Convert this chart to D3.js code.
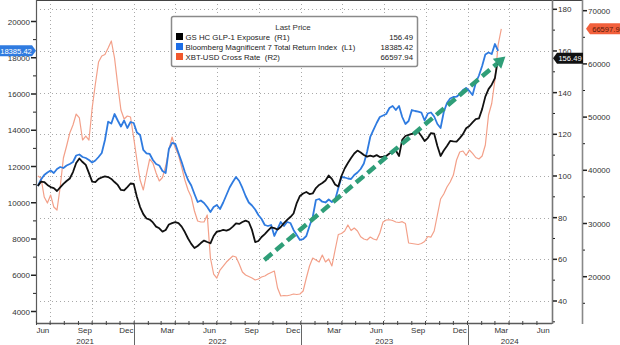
<!DOCTYPE html>
<html>
<head>
<meta charset="utf-8">
<script src="https://cdn.jsdelivr.net/npm/d3@7"></script>
<style>
  html, body { margin: 0; padding: 0; background: #fff; }
  svg { display: block; font-family: "Liberation Sans", Arial, sans-serif; }
  .keep-space { white-space: pre; }
</style>
</head>
<body>
<svg id="chart" width="620" height="345"></svg>
<script>
// ---- data -------------------------------------------------------------
// weekly closes, first observation on this date
const weekStart = "2021-06-04";

// GS HC GLP-1 Exposure (right axis R1)
const glpValues = [
  95.2, 97.3, 97.1, 95.7, 94.7, 94.2, 92.8, 94.5, 96.2, 97.6,
  98.8, 101.9, 106.2, 108.4, 106.7, 105.3, 101.4, 97.3, 97.1, 98.6,
  99.3, 99.8, 99.5, 98.6, 97.1, 95.7, 93.3, 93.1, 94.7, 96.4,
  96.2, 89.9, 85.1, 81.7, 79.6, 79.1, 77.7, 75.7, 74.9, 73.3,
  74.1, 76.7, 77.4, 77.9, 77.4, 75.7, 73.1, 70.0, 67.4, 65.4,
  66.4, 67.8, 69.0, 68.3, 67.7, 71.2, 73.3, 73.6, 74.1, 73.8,
  74.4, 75.7, 77.3, 77.0, 77.9, 78.6, 77.9, 74.1, 68.3, 68.8,
  70.7, 72.1, 73.8, 75.3, 75.0, 74.3, 75.5, 77.4, 78.9, 80.3,
  82.0, 87.0, 90.4, 91.6, 92.3, 91.3, 91.6, 94.2, 95.7, 96.6,
  97.8, 100.2, 98.6, 95.9, 94.9, 100.0, 103.6, 106.2, 108.6, 110.8,
  112.2, 111.3, 110.1, 109.3, 109.8, 109.3, 110.0, 109.1, 109.3, 109.6,
  110.8, 111.5, 112.2, 109.6, 117.3, 119.2, 119.7, 120.2, 120.6, 121.2,
  119.2, 116.8, 118.2, 120.6, 120.3, 114.4, 109.6, 112.2, 114.4, 116.8,
  116.6, 116.5, 118.2, 120.1, 122.9, 124.0, 125.7, 127.3, 127.6, 132.1,
  138.1, 141.7, 143.8, 147.0, 156.49
];

// Bloomberg Magnificent 7 Total Return Index (left axis L1)
const mag7Values = [
  10924, 11283, 11531, 11669, 11780, 11642, 11862, 11973, 11917, 12055,
  12138, 12248, 12607, 12662, 12525, 12469, 12359, 12221, 12331, 12525,
  12745, 13462, 14472, 14372, 14897, 14538, 14207, 14538, 14124, 14455,
  14400, 13876, 13738, 12911, 12729, 12690, 12359, 12138, 12055, 11752,
  11642, 12966, 13297, 13250, 12745, 12248, 11697, 11255, 10952, 10483,
  10042, 10125, 9987, 9766, 9490, 9766, 9876, 9655, 10014, 10428,
  10842, 11145, 11421, 11200, 10814, 10373, 10014, 9848, 9628, 9324,
  9104, 8773, 8718, 8773, 8166, 8552, 8938, 8718, 8938, 8883,
  8497, 8221, 7945, 7990, 8166, 8718, 9214, 10152, 10207, 10058,
  10014, 10180, 10042, 10152, 10798, 11421, 11393, 11338, 11311, 11531,
  11669, 11862, 12166, 12800, 13628, 14014, 14400, 14731, 14814, 14897,
  15228, 15338, 15117, 15338, 14731, 14345, 14510, 15117, 15062, 15024,
  14979, 14538, 14924, 14979, 14759, 14345, 14124, 15007, 15504, 15752,
  15835, 15851, 16000, 16221, 16331, 16166, 15945, 16607, 17021, 17545,
  18179, 18290, 18207, 18759, 18385.42
];

// XBT-USD Cross Rate (right axis R2)
const btcValues = [
  38928, 38552, 34981, 33853, 35357, 33101, 32537, 36860, 42309, 44566,
  47010, 48515, 50582, 49831, 45695, 46447, 45695, 51710, 56222, 60357,
  61485, 61767, 62989, 64305, 61109, 56034, 51334, 49642, 50206, 50018,
  46071, 41936, 38176, 36297, 39304, 42124, 41372, 39492, 37988, 38646,
  40808, 43815, 46259, 44191, 42875, 40620, 38176, 36297, 34981, 32350,
  30470, 30282, 30282, 31600, 23514, 20507, 19755, 21259, 22011, 22763,
  23326, 23890, 23702, 22387, 20883, 20319, 20037, 19755, 19379, 19567,
  19943, 20131, 20507, 20789, 21071, 17875, 16371, 16465, 16420, 16559,
  16747, 16653, 16747, 17311, 19755, 22011, 23514, 23138, 22763, 24078,
  22763, 23326, 22011, 25019, 27932, 28120, 28590, 29718, 28684, 29154,
  28590, 27519, 27086, 26898, 27462, 27086, 26898, 28214, 30282, 30658,
  30700, 30564, 30282, 30188, 30338, 30000, 26334, 26240, 26146, 26052,
  26240, 26616, 27556, 27450, 28590, 31598, 34606, 35546, 36860, 37800,
  39116, 41936, 43440, 43627, 42781, 43815, 43195, 42405, 42124, 42688,
  44755, 50394, 52556, 56973, 63552, 66597.94
];

const leftTicks = [4000, 6000, 8000, 10000, 12000, 14000, 16000, 18000, 20000];
const r1Ticks = [40, 60, 80, 100, 120, 140, 160, 180];
const r2Ticks = [20000, 30000, 40000, 50000, 60000, 70000];
const monthTicks = ["2021-06", "2021-09", "2021-12", "2022-03", "2022-06", "2022-09",
                    "2022-12", "2023-03", "2023-06", "2023-09", "2023-12", "2024-03", "2024-06"];
const yearLabels = ["2021", "2022", "2023", "2024"];

const seriesNames = ["GS HC GLP-1 Exposure  (R1)",
                     "Bloomberg Magnificent 7 Total Return Index  (L1)",
                     "XBT-USD Cross Rate  (R2)"];
const lastPrices = ["156.49", "18385.42", "66597.94"];

// trend arrow, expressed in date / R1 units
const trendFrom = { date: "2022-10-13", value: 59.7 };
const trendTo   = { date: "2024-03-24", value: 157.3 };

// ---- layout -----------------------------------------------------------
const svg = d3.select("#chart");
const parse = d3.utcParse("%Y-%m-%d");
const plotL = 36, plotR = 552, plotT = 0, plotB = 323, axR2 = 582;

const x = d3.scaleUtc()
  .domain([parse("2021-05-31"), parse("2024-07-04")])
  .range([plotL, plotR]);
const yL = d3.scaleLinear().domain([4000, 20000]).range([311.5, 21.5]);
const yR1 = d3.scaleLinear().domain([40, 180]).range([301, 9.3]);
const yR2 = d3.scaleLinear().domain([20000, 70000]).range([276.7, 10.7]);

const t0 = parse(weekStart);
const weekDate = i => d3.utcDay.offset(t0, 7 * i);

const colors = { glp: "#111111", mag7: "#2f7be0", btc: "#f3a089" };
const swatch = { glp: "#000000", mag7: "#1e6ee6", btc: "#f1582c" };

// ---- grid -------------------------------------------------------------
const grid = svg.append("g").attr("stroke", "#a9a9a9").attr("stroke-width", 1)
  .attr("stroke-dasharray", "1,3");
r1Ticks.forEach(v => {
  grid.append("line").attr("x1", plotL).attr("x2", plotR)
    .attr("y1", Math.round(yR1(v)) + 0.5).attr("y2", Math.round(yR1(v)) + 0.5);
});
const quarterLines = d3.utcMonth.every(3).range(parse("2021-07-01"), parse("2024-06-30"));
quarterLines.forEach(d => {
  grid.append("line").attr("x1", Math.round(x(d)) + 0.5).attr("x2", Math.round(x(d)) + 0.5)
    .attr("y1", plotT).attr("y2", plotB);
});

// ---- frame and axes ---------------------------------------------------
const axisColor = "#5a5a5a";
svg.append("line").attr("x1", plotL).attr("x2", axR2).attr("y1", 0.5).attr("y2", 0.5)
  .attr("stroke", "#444").attr("stroke-width", 1);
svg.append("line").attr("x1", plotL + 0.5).attr("x2", plotL + 0.5).attr("y1", 0).attr("y2", plotB)
  .attr("stroke", axisColor).attr("stroke-width", 1.2);
svg.append("line").attr("x1", plotL).attr("x2", plotR).attr("y1", plotB + 0.5).attr("y2", plotB + 0.5)
  .attr("stroke", axisColor).attr("stroke-width", 1.5);
svg.append("line").attr("x1", plotR + 0.5).attr("x2", plotR + 0.5).attr("y1", 0).attr("y2", plotB + 1)
  .attr("stroke", "#777").attr("stroke-width", 1.6);
svg.append("line").attr("x1", axR2 + 0.5).attr("x2", axR2 + 0.5).attr("y1", 0).attr("y2", plotB + 1)
  .attr("stroke", "#888").attr("stroke-width", 1.6);

const tickFont = 8;
const textColor = "#333";

// left axis (L1)
const gL = svg.append("g");
d3.range(4000, 20001, 1000).forEach(v => {
  const major = v % 2000 === 0;
  gL.append("line").attr("x1", plotL - (major ? 5 : 3)).attr("x2", plotL)
    .attr("y1", yL(v)).attr("y2", yL(v)).attr("stroke", "#222").attr("stroke-width", major ? 1.5 : 1);
});
leftTicks.forEach(v => {
  gL.append("text").attr("x", plotL - 6).attr("y", yL(v) + 3)
    .attr("text-anchor", "end").attr("font-size", tickFont).attr("fill", textColor).text(v);
});

// right axis (R1)
const gR1 = svg.append("g");
d3.range(30, 181, 10).forEach(v => {
  const major = v % 20 === 0;
  gR1.append("line").attr("x1", plotR + 1).attr("x2", plotR + (major ? 5 : 3))
    .attr("y1", yR1(v)).attr("y2", yR1(v)).attr("stroke", "#222").attr("stroke-width", major ? 1.5 : 1);
});
r1Ticks.forEach(v => {
  gR1.append("text").attr("x", plotR + 6).attr("y", yR1(v) + 3)
    .attr("font-size", tickFont).attr("fill", textColor).text(v);
});

// right axis (R2)
const gR2 = svg.append("g");
d3.range(15000, 70001, 5000).forEach(v => {
  const major = v % 10000 === 0;
  gR2.append("line").attr("x1", axR2 + 1).attr("x2", axR2 + (major ? 5 : 3))
    .attr("y1", yR2(v)).attr("y2", yR2(v)).attr("stroke", "#222").attr("stroke-width", major ? 1.5 : 1);
});
r2Ticks.forEach(v => {
  gR2.append("text").attr("x", axR2 + 6).attr("y", yR2(v) + 3)
    .attr("font-size", tickFont).attr("fill", textColor).text(v);
});

// time axis
const gX = svg.append("g");
d3.utcMonth.range(parse("2021-06-01"), parse("2024-07-01")).forEach(d => {
  gX.append("line").attr("x1", x(d)).attr("x2", x(d)).attr("y1", plotB - 2).attr("y2", plotB + 2)
    .attr("stroke", "#444").attr("stroke-width", 1);
});
const fmtMonth = d3.utcFormat("%b");
monthTicks.forEach(m => {
  const d = parse(m + "-15");
  gX.append("text").attr("x", x(d)).attr("y", plotB + 10).attr("text-anchor", "middle")
    .attr("font-size", tickFont).attr("fill", textColor).text(fmtMonth(d));
});
const [dom0, dom1] = x.domain();
yearLabels.forEach(yr => {
  const a = parse(yr + "-01-01"), b = parse((+yr + 1) + "-01-01");
  const xa = x(a < dom0 ? dom0 : a), xb = x(b > dom1 ? dom1 : b);
  gX.append("text").attr("x", (xa + xb) / 2).attr("y", plotB + 21).attr("text-anchor", "middle")
    .attr("font-size", tickFont).attr("fill", textColor).text(yr);
  if (a > dom0) {
    gX.append("line").attr("x1", Math.round(x(a)) + 0.5).attr("x2", Math.round(x(a)) + 0.5)
      .attr("y1", plotB + 2).attr("y2", 345).attr("stroke", "#666").attr("stroke-width", 1);
  }
});

// ---- series -----------------------------------------------------------
const lineFor = ys => d3.line().x((d, i) => x(weekDate(i))).y(d => ys(d));

svg.append("path").datum(btcValues).attr("d", lineFor(yR2))
  .attr("fill", "none").attr("stroke", colors.btc).attr("stroke-width", 1.2)
  .attr("stroke-linejoin", "round");
svg.append("path").datum(mag7Values).attr("d", lineFor(yL))
  .attr("fill", "none").attr("stroke", colors.mag7).attr("stroke-width", 1.8)
  .attr("stroke-linejoin", "round");
svg.append("path").datum(glpValues).attr("d", lineFor(yR1))
  .attr("fill", "none").attr("stroke", colors.glp).attr("stroke-width", 1.8)
  .attr("stroke-linejoin", "round");

// ---- trend arrow ------------------------------------------------------
const arrowColor = "#2f9e78";
const ax0 = x(parse(trendFrom.date)), ay0 = yR1(trendFrom.value);
const ax1 = x(parse(trendTo.date)), ay1 = yR1(trendTo.value);
const ang = Math.atan2(ay1 - ay0, ax1 - ax0);
const headLen = 11, headW = 6.5;
const bx = ax1 - headLen * Math.cos(ang), by = ay1 - headLen * Math.sin(ang);
svg.append("line").attr("x1", ax0).attr("y1", ay0).attr("x2", bx).attr("y2", by)
  .attr("stroke", arrowColor).attr("stroke-width", 4.5).attr("stroke-dasharray", "10,5");
svg.append("path")
  .attr("d", d3.line()([
    [ax1, ay1],
    [bx + headW * Math.sin(ang), by - headW * Math.cos(ang)],
    [bx - headW * Math.sin(ang), by + headW * Math.cos(ang)]
  ]) + "Z")
  .attr("fill", arrowColor);

// ---- legend -----------------------------------------------------------
const lg = svg.append("g");
lg.append("rect").attr("x", 171.5).attr("y", 16.5).attr("width", 246).attr("height", 50)
  .attr("rx", 2).attr("fill", "#fff").attr("stroke", "#8a8a8a").attr("stroke-width", 1.5);
lg.append("text").attr("x", 293).attr("y", 30).attr("text-anchor", "middle")
  .attr("font-size", 8).attr("fill", "#333").text("Last Price");
const keys = ["glp", "mag7", "btc"];
keys.forEach((k, i) => {
  const yy = 39.5 + i * 10;
  lg.append("rect").attr("x", 176).attr("y", yy - 6.5).attr("width", 7).attr("height", 7)
    .attr("fill", swatch[k]);
  lg.append("text").attr("class", "keep-space").attr("x", 185.5).attr("y", yy)
    .attr("font-size", 7.8).attr("fill", "#222").text(seriesNames[i]);
  lg.append("text").attr("x", 413).attr("y", yy).attr("text-anchor", "end")
    .attr("font-size", 7.8).attr("fill", "#222").text(lastPrices[i]);
});

// ---- last value tags --------------------------------------------------
function tag(xTip, yc, w, dir, fill, txtColor, label) {
  const h = 11, p = 4;
  const g = svg.append("g");
  let pts;
  if (dir === "right") {
    pts = [[xTip - w, yc - h / 2], [xTip - p, yc - h / 2], [xTip, yc], [xTip - p, yc + h / 2], [xTip - w, yc + h / 2]];
  } else {
    pts = [[xTip, yc], [xTip + p, yc - h / 2], [xTip + w, yc - h / 2], [xTip + w, yc + h / 2], [xTip + p, yc + h / 2]];
  }
  g.append("path").attr("d", d3.line()(pts) + "Z").attr("fill", fill);
  const cx = dir === "right" ? xTip - w / 2 - 1 : xTip + w / 2 + 2;
  g.append("text").attr("x", cx).attr("y", yc + 3).attr("text-anchor", "middle")
    .attr("font-size", 7.6).attr("fill", txtColor).text(label);
}
tag(plotL, yL(mag7Values[mag7Values.length - 1]), 38, "right", "#2f7be0", "#fff", lastPrices[1]);
tag(plotR + 1, yR1(glpValues[glpValues.length - 1]), 30, "left", "#111", "#fff", lastPrices[0]);
tag(axR2 + 4, yR2(btcValues[btcValues.length - 1]), 40, "left", "#f2603c", "#5a1a08", lastPrices[2]);
</script>
</body>
</html>
